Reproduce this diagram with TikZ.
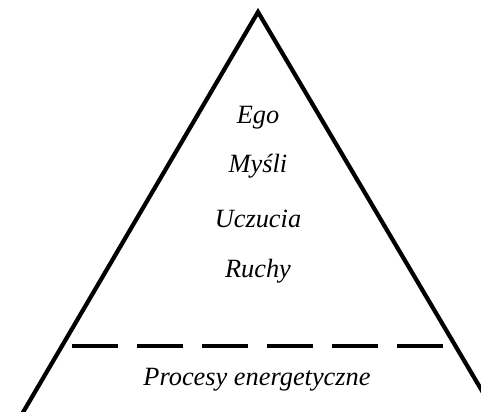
\documentclass[tikz,border=0pt]{standalone}
\usepackage{fontspec}
\setmainfont{Liberation Serif}
\usepackage{tikz}

\tikzset{
  level/.style={font=\fontsize{15}{17}\selectfont\itshape},
  side/.style={line width=2.4pt},
  split/.style={line width=2.4pt, dash pattern=on 26pt off 11pt}
}

\begin{document}
\begin{tikzpicture}[x=0.02cm, y=-0.02cm]

    % Frame of the picture
    \useasboundingbox (0,0) rectangle (481,412);
    \clip (0,0) rectangle (481,412);

    % Corners of the triangle
    \coordinate (apex) at (258,12);
    \coordinate (left) at (-12,472);
    \coordinate (right) at (530,472);

    % Sides
    \draw[side, line join=miter] (left) -- (apex) -- (right);

    % Dividing line
    \coordinate (cutL) at (72,346);
    \coordinate (cutR) at (444,346);
    \draw[split] (cutL) -- (cutR);

    % Levels
    \node[level] (ego) at (258,118) {Ego};
    \node[level] (mysli) at (258,166) {Myśli};
    \node[level] (uczucia) at (258,219) {Uczucia};
    \node[level] (ruchy) at (258,271) {Ruchy};
    \node[level] (procesy) at (257,380) {Procesy energetyczne};

\end{tikzpicture}
\end{document}
